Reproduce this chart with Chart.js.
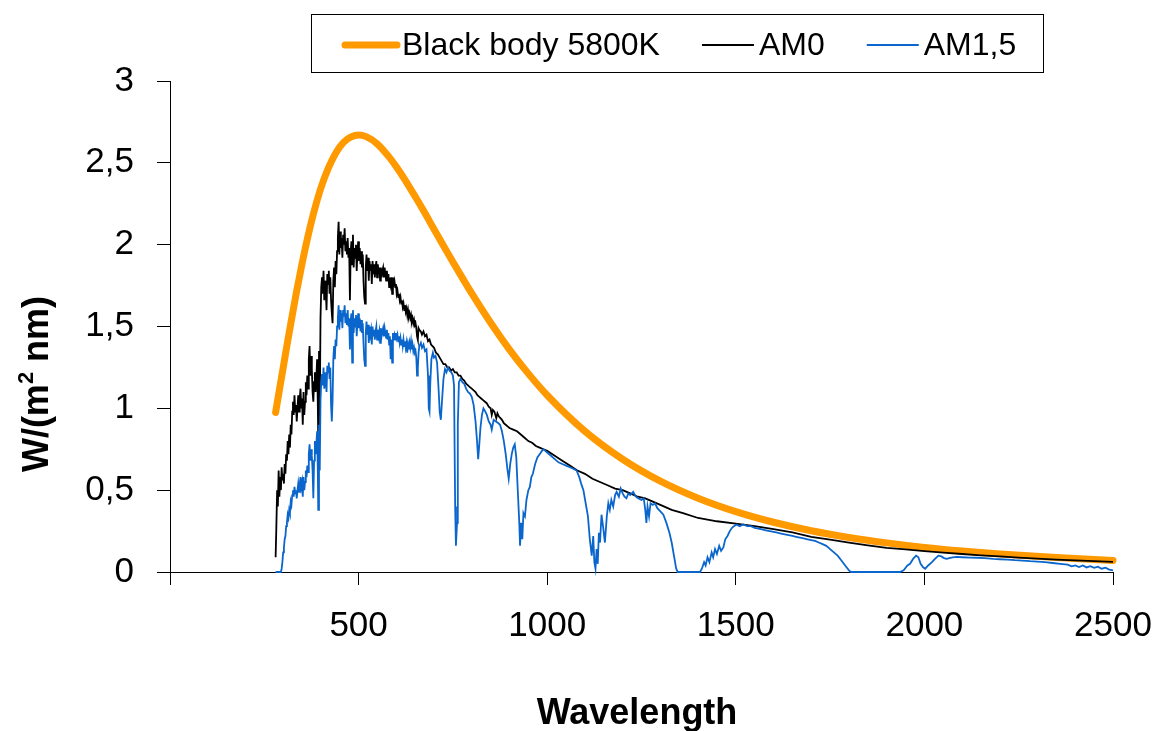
<!DOCTYPE html>
<html>
<head>
<meta charset="utf-8">
<script src="https://cdn.jsdelivr.net/npm/chart.js@4/dist/chart.umd.min.js"></script>
<style>
  html, body { margin: 0; padding: 0; background: #fff; }
  #wrap { width: 1164px; height: 731px; position: relative; }
</style>
</head>
<body>
<div id="wrap"><canvas id="spectrum-chart"></canvas></div>
<script>
/*global Chart*/

// Black body 5800K
const bbWavelength = [280, 290, 300, 310, 320, 335, 350, 365, 380, 400, 420, 440, 460, 480, 500, 520, 550, 580,
  600, 620, 650, 675, 700, 725, 750, 775, 800, 850, 900, 950, 1000, 1100, 1200, 1300, 1400, 1500, 1600, 1700,
  1800, 1900, 2000, 2100, 2200, 2350, 2500];
const bbValues = [0.975, 1.113, 1.247, 1.384, 1.515, 1.707, 1.883, 2.044, 2.186, 2.346, 2.469, 2.562, 2.625, 2.658,
  2.670, 2.660, 2.615, 2.538, 2.476, 2.407, 2.294, 2.196, 2.094, 1.994, 1.894, 1.797, 1.702, 1.523, 1.359, 1.212,
  1.080, 0.860, 0.689, 0.555, 0.451, 0.369, 0.304, 0.252, 0.211, 0.178, 0.150, 0.128, 0.110, 0.088, 0.071];

// AM0 (black)
const am0Wavelength = [
  280, 282, 284, 286, 288, 290, 292, 294, 296, 298,
  300, 302, 304, 306, 308, 310, 312, 314, 316, 318,
  320, 322, 324, 326, 328, 330, 332, 334, 336, 338,
  340, 342, 344, 346, 348, 350, 352, 354, 356, 358,
  360, 362, 364, 366, 368, 370, 372, 374, 376, 378,
  380, 382, 384, 386, 388, 390, 392, 393, 395, 397,
  399, 401, 403, 405, 407, 409, 411, 413, 415, 417,
  419, 421, 423, 425, 427, 429, 431, 433, 435, 437,
  439, 441, 443, 445, 447, 449, 451, 453, 455, 457,
  459, 461, 463, 465, 467, 469, 471, 473, 475, 477,
  479, 481, 483, 485, 487, 489, 491, 493, 495, 497,
  499, 501, 503, 505, 507, 509, 511, 513, 515, 517,
  519, 521, 523, 525, 527, 529, 531, 533, 535, 537,
  539, 541, 543, 545, 547, 549, 551, 553, 555, 557,
  559, 561, 563, 565, 567, 569, 571, 573, 575, 577,
  579, 581, 583, 585, 587, 589, 591, 593, 595, 597,
  599, 601, 603, 605, 607, 609, 611, 613, 615, 617,
  619, 621, 623, 625, 627, 629, 631, 633, 635, 637,
  639, 641, 643, 645, 647, 649, 651, 653, 655, 657,
  659, 661, 665, 668, 672, 676, 680, 684, 688, 692,
  696, 700, 705, 710, 715, 720, 725, 730, 735, 740,
  745, 750, 755, 760, 765, 770, 775, 780, 785, 790,
  795, 800, 805, 810, 815, 820, 825, 830, 835, 840,
  845, 850, 853, 856, 860, 865, 868, 872, 876, 880,
  885, 890, 895, 900, 910, 920, 930, 940, 950, 960,
  970, 980, 990, 1000, 1020, 1040, 1060, 1080, 1100, 1120,
  1140, 1160, 1180, 1200, 1220, 1240, 1260, 1280, 1300, 1330,
  1360, 1400, 1450, 1500, 1550, 1600, 1650, 1700, 1750, 1800,
  1850, 1900, 1950, 2000, 2050, 2100, 2150, 2200, 2250, 2300,
  2350, 2400, 2450, 2500];
const am0Values = [
  0.09, 0.28, 0.50, 0.40, 0.62, 0.46, 0.58, 0.50, 0.64, 0.56,
  0.60, 0.54, 0.66, 0.60, 0.72, 0.68, 0.80, 0.72, 0.84, 0.76,
  0.90, 0.84, 0.98, 1.04, 0.96, 1.08, 0.98, 1.02, 0.92, 1.00,
  1.08, 0.98, 1.06, 1.12, 1.00, 1.06, 0.90, 1.10, 0.96, 1.04,
  1.16, 1.08, 1.20, 1.12, 1.30, 1.38, 1.20, 1.32, 1.24, 1.10,
  1.04, 1.16, 1.22, 1.10, 1.18, 1.30, 1.00, 0.82, 1.35, 0.95,
  1.55, 1.74, 1.80, 1.70, 1.84, 1.66, 1.78, 1.72, 1.60, 1.82,
  1.76, 1.84, 1.70, 1.80, 1.66, 1.58, 1.52, 1.78, 1.86, 1.74,
  1.90, 1.82, 1.96, 2.04, 2.14, 1.94, 2.08, 1.98, 2.04, 1.92,
  2.06, 2.00, 2.10, 1.96, 2.02, 1.94, 2.04, 1.92, 1.98, 1.66,
  1.96, 2.02, 1.88, 2.06, 1.86, 1.98, 1.92, 2.00, 1.84, 1.96,
  2.02, 1.90, 1.98, 1.88, 1.96, 1.86, 1.94, 1.78, 1.68, 1.64,
  1.86, 1.94, 1.84, 1.92, 1.78, 1.90, 1.84, 1.88, 1.76, 1.90,
  1.82, 1.88, 1.80, 1.86, 1.90, 1.80, 1.88, 1.82, 1.86, 1.78,
  1.86, 1.80, 1.84, 1.86, 1.80, 1.86, 1.82, 1.78, 1.84, 1.78,
  1.82, 1.74, 1.80, 1.76, 1.80, 1.70, 1.80, 1.76, 1.78, 1.74,
  1.76, 1.70, 1.72, 1.68, 1.70, 1.66, 1.68, 1.64, 1.66, 1.62,
  1.64, 1.60, 1.63, 1.59, 1.61, 1.57, 1.60, 1.56, 1.58, 1.55,
  1.57, 1.53, 1.55, 1.52, 1.54, 1.51, 1.52, 1.49, 1.44, 1.42,
  1.49, 1.48, 1.47, 1.45, 1.47, 1.44, 1.45, 1.41, 1.42, 1.39,
  1.38, 1.37, 1.34, 1.33, 1.31, 1.29, 1.27, 1.27, 1.25, 1.25,
  1.23, 1.24, 1.22, 1.22, 1.20, 1.20, 1.18, 1.17, 1.15, 1.14,
  1.13, 1.12, 1.11, 1.10, 1.08, 1.07, 1.06, 1.05, 1.04, 1.03,
  1.01, 1.00, 0.96, 0.99, 0.98, 0.94, 0.97, 0.95, 0.94, 0.93,
  0.91, 0.90, 0.89, 0.88, 0.87, 0.86, 0.84, 0.82, 0.80, 0.79,
  0.77, 0.76, 0.75, 0.74, 0.71, 0.68, 0.65, 0.62, 0.60, 0.57,
  0.55, 0.53, 0.51, 0.50, 0.48, 0.46, 0.45, 0.43, 0.41, 0.38,
  0.36, 0.33, 0.31, 0.295, 0.28, 0.262, 0.242, 0.215, 0.198, 0.18,
  0.163, 0.148, 0.138, 0.128, 0.118, 0.11, 0.102, 0.095, 0.088, 0.082,
  0.076, 0.071, 0.066, 0.062];

// AM1,5 (blue)
const am15Wavelength = [
  280, 294, 296, 298, 300, 302, 304, 306, 308, 310,
  312, 314, 316, 318, 320, 322, 324, 326, 328, 330,
  332, 334, 336, 338, 340, 342, 344, 346, 348, 350,
  352, 354, 356, 358, 360, 362, 364, 366, 368, 370,
  372, 374, 376, 378, 380, 382, 384, 386, 388, 390,
  392, 393, 395, 397, 399, 401, 403, 405, 407, 409,
  411, 413, 415, 417, 419, 421, 423, 425, 427, 429,
  431, 433, 435, 437, 439, 441, 443, 445, 447, 449,
  451, 453, 455, 457, 459, 461, 463, 465, 467, 469,
  471, 473, 475, 477, 479, 481, 483, 485, 487, 489,
  491, 493, 495, 497, 499, 501, 503, 505, 507, 509,
  511, 513, 515, 517, 519, 521, 523, 525, 527, 529,
  531, 533, 535, 537, 539, 541, 543, 545, 547, 549,
  551, 553, 555, 557, 559, 561, 563, 565, 567, 569,
  571, 573, 575, 577, 579, 581, 583, 585, 587, 589,
  591, 593, 595, 597, 599, 601, 603, 605, 607, 609,
  611, 613, 615, 617, 619, 621, 623, 625, 627, 629,
  631, 633, 635, 637, 639, 641, 643, 645, 647, 649,
  651, 653, 655, 657, 659, 661, 665, 668, 672, 676,
  680, 684, 686, 688, 690, 693, 697, 700, 704, 708,
  712, 715, 718, 721, 725, 729, 733, 737, 741, 746,
  750, 753, 756, 758, 761, 763, 766, 770, 775, 780,
  785, 790, 795, 800, 805, 810, 814, 817, 820, 823,
  827, 831, 836, 840, 845, 850, 853, 858, 864, 870,
  875, 880, 885, 890, 895, 898, 902, 906, 910, 914,
  918, 922, 926, 928, 931, 934, 937, 941, 945, 950,
  954, 958, 962, 968, 974, 980, 986, 990, 995, 1000,
  1010, 1020, 1030, 1040, 1050, 1060, 1070, 1078, 1085, 1090,
  1096, 1102, 1108, 1113, 1118, 1122, 1125, 1128, 1131, 1134,
  1137, 1140, 1144, 1148, 1153, 1158, 1162, 1166, 1170, 1175,
  1180, 1184, 1190, 1195, 1200, 1205, 1210, 1215, 1220, 1228,
  1235, 1242, 1250, 1256, 1260, 1263, 1266, 1270, 1274, 1280,
  1286, 1292, 1300, 1308, 1316, 1324, 1330, 1336, 1342, 1346,
  1405, 1410, 1416, 1420, 1425, 1430, 1436, 1440, 1445, 1450,
  1456, 1461, 1467, 1472, 1478, 1484, 1490, 1495, 1502, 1510,
  1520, 1530, 1540, 1550, 1560, 1570, 1580, 1590, 1600, 1610,
  1620, 1630, 1640, 1650, 1660, 1670, 1680, 1690, 1700, 1710,
  1720, 1730, 1740, 1750, 1760, 1770, 1780, 1790, 1800, 1805,
  1935, 1945, 1955, 1962, 1970, 1978, 1984, 1990, 1996, 2002,
  2010, 2020, 2028, 2037, 2045, 2052, 2059, 2066, 2075, 2086,
  2100, 2120, 2140, 2160, 2183, 2200, 2220, 2240, 2260, 2280,
  2300, 2320, 2340, 2360, 2380, 2390, 2400, 2410, 2420, 2430,
  2440, 2450, 2460, 2470, 2480, 2490, 2500];
const am15Values = [
  0, 0, 0.02, 0.06, 0.12, 0.15, 0.20, 0.22, 0.28, 0.30,
  0.35, 0.33, 0.38, 0.36, 0.43, 0.41, 0.47, 0.50, 0.46, 0.52,
  0.48, 0.50, 0.45, 0.50, 0.54, 0.49, 0.54, 0.58, 0.52, 0.55,
  0.46, 0.58, 0.50, 0.55, 0.62, 0.58, 0.65, 0.61, 0.72, 0.78,
  0.68, 0.75, 0.71, 0.62, 0.45, 0.68, 0.80, 0.72, 0.78, 0.86,
  0.60, 0.38, 0.90, 0.62, 1.05, 1.16, 1.21, 1.14, 1.25, 1.12,
  1.22, 1.18, 1.10, 1.26, 1.22, 1.28, 1.18, 1.25, 1.02, 0.92,
  1.05, 1.30, 1.38, 1.30, 1.42, 1.38, 1.50, 1.55, 1.63, 1.48,
  1.60, 1.53, 1.58, 1.49, 1.60, 1.56, 1.63, 1.52, 1.58, 1.51,
  1.60, 1.50, 1.55, 1.36, 1.54, 1.58, 1.28, 1.60, 1.46, 1.55,
  1.50, 1.57, 1.44, 1.53, 1.58, 1.49, 1.55, 1.47, 1.54, 1.46,
  1.52, 1.40, 1.30, 1.26, 1.46, 1.53, 1.45, 1.51, 1.40, 1.50,
  1.45, 1.48, 1.39, 1.50, 1.44, 1.48, 1.42, 1.47, 1.50, 1.42,
  1.48, 1.44, 1.47, 1.40, 1.49, 1.44, 1.47, 1.49, 1.44, 1.49,
  1.46, 1.43, 1.48, 1.42, 1.46, 1.39, 1.44, 1.30, 1.42, 1.28,
  1.46, 1.43, 1.45, 1.42, 1.46, 1.43, 1.45, 1.41, 1.44, 1.40,
  1.43, 1.39, 1.42, 1.38, 1.42, 1.38, 1.41, 1.37, 1.40, 1.34,
  1.39, 1.36, 1.40, 1.37, 1.41, 1.36, 1.39, 1.35, 1.37, 1.34,
  1.35, 1.31, 1.20, 1.24, 1.34, 1.38, 1.40, 1.37, 1.39, 1.35,
  1.36, 1.20, 1.00, 0.98, 1.15, 1.30, 1.34, 1.31, 1.32, 1.28,
  1.12, 0.98, 0.93, 1.04, 1.18, 1.24, 1.22, 1.25, 1.23, 1.22,
  1.20, 1.14, 0.40, 0.16, 0.30, 0.90, 1.16, 1.18, 1.16, 1.15,
  1.12, 1.10, 1.09, 1.07, 1.02, 0.92, 0.80, 0.69, 0.78, 0.88,
  0.96, 1.00, 0.98, 0.96, 0.92, 0.90, 0.87, 0.93, 0.92, 0.91,
  0.90, 0.86, 0.80, 0.72, 0.62, 0.57, 0.66, 0.72, 0.76, 0.78,
  0.70, 0.50, 0.30, 0.16, 0.30, 0.20, 0.36, 0.34, 0.44, 0.50,
  0.52, 0.58, 0.60, 0.66, 0.70, 0.72, 0.74, 0.75, 0.74, 0.73,
  0.71, 0.69, 0.67, 0.66, 0.65, 0.64, 0.63, 0.62, 0.58, 0.54,
  0.50, 0.42, 0.34, 0.20, 0.10, 0.22, 0.06, 0.02, 0.14, 0.05,
  0.24, 0.18, 0.35, 0.28, 0.18, 0.34, 0.42, 0.38, 0.44, 0.40,
  0.47, 0.49, 0.46, 0.51, 0.48, 0.46, 0.45, 0.48, 0.47, 0.49,
  0.46, 0.45, 0.44, 0.45, 0.38, 0.30, 0.40, 0.34, 0.42, 0.41,
  0.42, 0.39, 0.37, 0.35, 0.30, 0.24, 0.18, 0.10, 0.02, 0,
  0, 0.02, 0.06, 0.04, 0.09, 0.06, 0.12, 0.09, 0.14, 0.11,
  0.16, 0.13, 0.15, 0.20, 0.22, 0.25, 0.27, 0.28, 0.29, 0.28,
  0.29, 0.28, 0.28, 0.27, 0.265, 0.26, 0.255, 0.25, 0.245, 0.24,
  0.235, 0.23, 0.225, 0.22, 0.215, 0.21, 0.205, 0.20, 0.195, 0.19,
  0.18, 0.17, 0.16, 0.14, 0.12, 0.10, 0.07, 0.04, 0.01, 0,
  0, 0.01, 0.04, 0.05, 0.08, 0.10, 0.09, 0.05, 0.03, 0.02,
  0.04, 0.06, 0.08, 0.10, 0.095, 0.085, 0.08, 0.085, 0.09, 0.092,
  0.09, 0.088, 0.087, 0.085, 0.08, 0.078, 0.076, 0.072, 0.07, 0.066,
  0.064, 0.06, 0.055, 0.05, 0.045, 0.035, 0.04, 0.03, 0.04, 0.028,
  0.036, 0.025, 0.032, 0.02, 0.026, 0.015, 0.01];

const FONT = "'Liberation Sans', Arial, sans-serif";

function toPoints(xs, ys) {
  return xs.map((x, i) => ({ x: x, y: ys[i] }));
}

// Excel-like frame: boxed legend and the two axis titles
const excelFrame = {
  id: "excelFrame",
  afterDraw(chart) {
    const ctx = chart.ctx;
    ctx.save();

    // legend
    ctx.font = "32px " + FONT;
    ctx.textBaseline = "middle";
    ctx.textAlign = "left";
    let x = 345;
    const y = 45;
    for (const ds of chart.data.datasets) {
      ctx.strokeStyle = ds.borderColor;
      ctx.lineWidth = ds.borderWidth;
      ctx.lineCap = ds.borderCapStyle || "butt";
      ctx.beginPath();
      ctx.moveTo(x, y);
      ctx.lineTo(x + 52, y);
      ctx.stroke();
      x += 57;
      ctx.fillStyle = "#000";
      ctx.fillText(ds.label, x, y + 1);
      x += ctx.measureText(ds.label).width + 42;
    }
    ctx.lineWidth = 1;
    ctx.strokeStyle = "#000";
    ctx.strokeRect(311.5, 14.5, 732, 58);

    // x title
    ctx.fillStyle = "#000";
    ctx.font = "bold 36px " + FONT;
    ctx.textAlign = "center";
    ctx.textBaseline = "alphabetic";
    ctx.fillText("Wavelength", 637, 724);

    // y title, with superscript 2
    const parts = [
      { text: "W/(m", size: 36, rise: 0 },
      { text: "2", size: 22, rise: 15 },
      { text: " nm)", size: 36, rise: 0 },
    ];
    ctx.translate(48, 384);
    ctx.rotate(-Math.PI / 2);
    ctx.textAlign = "left";
    let total = 0;
    for (const p of parts) {
      ctx.font = "bold " + p.size + "px " + FONT;
      p.w = ctx.measureText(p.text).width;
      total += p.w;
    }
    let px = -total / 2;
    for (const p of parts) {
      ctx.font = "bold " + p.size + "px " + FONT;
      ctx.fillText(p.text, px, -p.rise);
      px += p.w;
    }
    ctx.restore();
  },
};

const ctx = document.getElementById("spectrum-chart").getContext("2d");

new Chart(ctx, {
  type: "line",
  plugins: [excelFrame],
  data: {
    datasets: [
      {
        label: "Black body 5800K",
        data: toPoints(bbWavelength, bbValues),
        borderColor: "#ff9900",
        borderWidth: 7,
        borderCapStyle: "round",
        cubicInterpolationMode: "monotone",
        order: 3,
      },
      {
        label: "AM0",
        data: toPoints(am0Wavelength, am0Values),
        borderColor: "#000000",
        borderWidth: 1.8,
        tension: 0,
        order: 2,
      },
      {
        label: "AM1,5",
        data: toPoints(am15Wavelength, am15Values),
        borderColor: "#0a66cc",
        borderWidth: 1.8,
        tension: 0,
        order: 1,
      },
    ],
  },
  options: {
    responsive: true,
    maintainAspectRatio: false,
    animation: false,
    layout: {
      padding: { top: 81, right: 51, bottom: 0, left: 0 },
    },
    elements: {
      point: { radius: 0 },
      line: { fill: false },
    },
    datasets: {
      line: { clip: false },
    },
    scales: {
      x: {
        type: "linear",
        min: 0,
        max: 2500,
        afterFit: (scale) => {
          scale.height = 159;
          scale.paddingLeft = 0;
          scale.paddingRight = 0;
        },
        ticks: {
          stepSize: 500,
          color: "#000",
          padding: 20,
          maxRotation: 0,
          font: { family: FONT, size: 35 },
          callback: (v) => (v === 0 ? "" : String(v)),
        },
        grid: {
          drawOnChartArea: false,
          tickLength: 13,
          color: "#000",
        },
        border: { color: "#000", width: 1 },
      },
      y: {
        min: 0,
        max: 3,
        afterFit: (scale) => {
          scale.width = 170;
        },
        ticks: {
          stepSize: 0.5,
          color: "#000",
          padding: 23,
          font: { family: FONT, size: 35 },
          callback: (v) => String(v).replace(".", ","),
        },
        grid: {
          drawOnChartArea: false,
          tickLength: 13,
          color: "#000",
        },
        border: { color: "#000", width: 1 },
      },
    },
    plugins: {
      legend: { display: false },
      tooltip: { enabled: false },
    },
  },
});
</script>
</body>
</html>
